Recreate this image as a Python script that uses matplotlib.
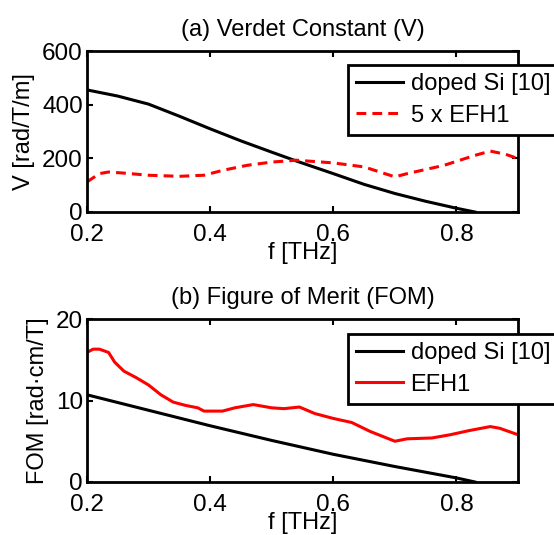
import matplotlib

matplotlib.use("Agg")
import matplotlib.pyplot as plt

# (a) Verdet constant
f_si_v = [0.20, 0.25, 0.30, 0.35, 0.40, 0.45, 0.50, 0.54, 0.60, 0.65, 0.70, 0.75, 0.80, 0.83]
v_si = [455, 432, 402, 357, 310, 265, 223, 190, 143, 103, 69, 40, 14, 0]

f_efh_v = [0.20, 0.22, 0.235, 0.26, 0.30, 0.35, 0.39, 0.42, 0.46, 0.50, 0.54, 0.60,
           0.65, 0.70, 0.72, 0.78, 0.83, 0.855, 0.88, 0.90]
v_efh = [112, 143, 149, 145, 137, 133, 137, 155, 174, 186, 193, 183,
         168, 131, 143, 174, 211, 227, 215, 199]

# (b) figure of merit
f_si_fom = [0.20, 0.30, 0.40, 0.50, 0.60, 0.70, 0.80, 0.83]
fom_si = [10.7, 8.8, 6.9, 5.1, 3.4, 1.9, 0.5, 0.0]

f_efh_fom = [0.20, 0.21, 0.22, 0.235, 0.245, 0.26, 0.28, 0.30, 0.32, 0.34, 0.36, 0.38,
             0.39, 0.42, 0.44, 0.47, 0.50, 0.52, 0.545, 0.57, 0.60, 0.63, 0.66, 0.70,
             0.72, 0.76, 0.79, 0.82, 0.855, 0.87, 0.90]
fom_efh = [15.9, 16.3, 16.3, 15.9, 14.7, 13.6, 12.8, 11.9, 10.7, 9.8, 9.4, 9.1,
           8.7, 8.7, 9.1, 9.5, 9.1, 9.0, 9.2, 8.4, 7.8, 7.3, 6.2, 5.0,
           5.3, 5.4, 5.8, 6.3, 6.8, 6.6, 5.8]

plt.rcParams["font.family"] = ["Liberation Sans", "DejaVu Sans"]

fig = plt.figure(figsize=(5.54, 5.35), dpi=100)
W, H = 554, 535
ax1 = fig.add_axes([87 / W, 1 - 212 / H, 431 / W, 161 / H])
ax2 = fig.add_axes([87 / W, 1 - 482 / H, 431 / W, 163 / H])


def style(ax, yticks, ylabel, title):
    ax.set_xlim(0.2, 0.9)
    ax.set_ylim(yticks[0], yticks[-1])
    ax.set_xticks([0.2, 0.4, 0.6, 0.8])
    ax.set_xticklabels(["0.2", "0.4", "0.6", "0.8"])
    ax.set_yticks(yticks)
    ax.tick_params(direction="in", top=True, right=True, length=4, width=1.5,
                   labelsize=17.5)
    ax.tick_params(axis="x", pad=8.5)
    ax.tick_params(axis="y", pad=3)
    for s in ax.spines.values():
        s.set_linewidth(2.0)
    ax.set_xlabel("f [THz]", fontsize=17, labelpad=-2.5)
    ax.set_ylabel(ylabel, fontsize=17, labelpad=5)
    ax.set_title(title, fontsize=17, pad=11)


ax1.plot(f_si_v, v_si, color="black", lw=2.2, label="doped Si [10]")
ax1.plot(f_efh_v, v_efh, color="red", lw=2.2, ls=(0, (3.2, 2.0)), label="5 x EFH1")
style(ax1, [0, 200, 400, 600], "V [rad/T/m]", "(a) Verdet Constant (V)")

ax2.plot(f_si_fom, fom_si, color="black", lw=2.2, label="doped Si [10]")
ax2.plot(f_efh_fom, fom_efh, color="red", lw=2.2, label="EFH1")
style(ax2, [0, 10, 20], "FOM [rad\u00b7cm/T]", "(b) Figure of Merit (FOM)")

for ax, top in ((ax1, 65), (ax2, 334)):
    leg = ax.legend(loc="upper left", bbox_to_anchor=(348 / W, 1 - top / H),
                    bbox_transform=fig.transFigure, borderaxespad=0, fontsize=17,
                    fancybox=False, framealpha=1, edgecolor="black",
                    handlelength=2.0, handletextpad=0.3, borderpad=0.35,
                    labelspacing=0.4)
    leg.get_frame().set_linewidth(2.0)

fig.savefig("out.png", dpi=100)
